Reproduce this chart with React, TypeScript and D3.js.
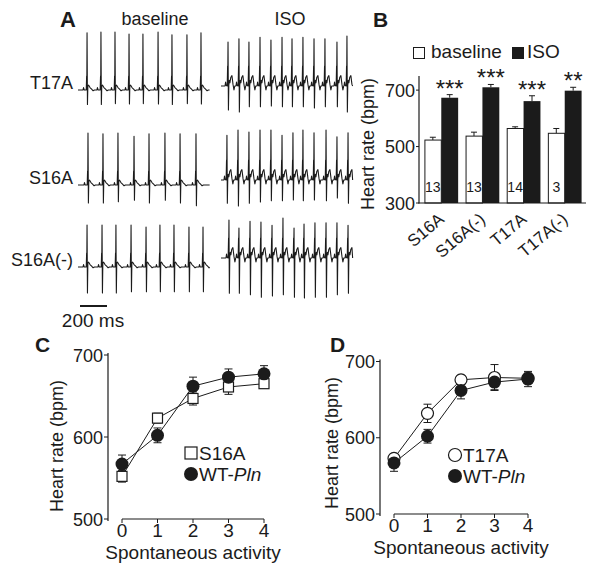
import * as d3 from 'd3'

const FONT = '"Liberation Sans", Arial, Helvetica, sans-serif'
const INK = '#1b1b1b'

// ---------- A: ECG traces ----------
const traceLabels = ['T17A', 'S16A', 'S16A(-)']
// R-peak times (ms) inside a 975 ms window
const baselineBeats = [
  [67, 170, 274, 378, 481, 593, 696, 807, 911],
  [74, 185, 296, 415, 526, 644, 756, 874],
  [67, 178, 281, 393, 504, 607, 711, 822, 926],
]
const isoBeats = [
  [52, 133, 207, 289, 370, 452, 526, 607, 689, 770, 859, 933],
  [44, 126, 207, 289, 370, 452, 533, 607, 689, 778, 859, 941],
  [59, 133, 215, 296, 378, 459, 541, 615, 696, 778, 859, 941],
]
// R and S amplitudes (mV)
const baselineR = [
  [1.43, 1.45, 1.45, 1.4, 1.4, 1.45, 1.38, 1.38, 1.43],
  [1.3, 1.28, 1.3, 1.22, 1.28, 1.3, 1.28, 1.28],
  [1.05, 1.05, 1.05, 1.05, 1.0, 1.05, 1.05, 1.0, 1.0],
]
const baselineS = [
  [0.36, 0.36, 0.34, 0.35, 0.34, 0.35, 0.36, 0.34, 0.35],
  [0.45, 0.45, 0.42, 0.38, 0.45, 0.38, 0.45, 0.52],
  [0.65, 0.65, 0.65, 0.62, 0.62, 0.62, 0.62, 0.62, 0.62],
]
const isoR = [
  [1.1, 1.18, 1.1, 1.22, 1.15, 1.22, 1.18, 1.22, 1.18, 1.18, 1.1, 1.25],
  [1.12, 1.25, 1.2, 1.25, 1.25, 1.12, 1.18, 1.25, 1.18, 1.25, 1.08, 1.18],
  [0.95, 0.75, 0.92, 0.9, 0.82, 1.0, 0.75, 0.85, 0.88, 0.88, 0.88, 0.82],
]
const isoS = [
  [0.6, 0.65, 0.52, 0.52, 0.5, 0.52, 0.52, 0.52, 0.55, 0.52, 0.52, 0.65],
  [0.58, 0.65, 0.58, 0.55, 0.52, 0.52, 0.5, 0.52, 0.5, 0.52, 0.45, 0.58],
  [0.88, 0.88, 0.92, 0.98, 0.95, 0.92, 0.98, 1.0, 0.98, 0.98, 0.92, 0.88],
]
// one-beat shapes around R peak: [ms offset, mV]
const restPre = [[-30, 0], [-26, 0.06], [-21, 0], [-6, 0], [-3, 0.35], [-1.5, 0.3]]
const restPost = [[6, 0.1], [12, 0.12], [22, 0.06], [34, 0.02], [45, -0.02], [55, 0]]
const isoPre = [[-22, 0], [-18, 0.1], [-14, 0.02], [-6, 0], [-3, 0.5], [-1.5, 0.42]]
const isoPost = [[6, 0.02], [10, 0.14], [14, 0.08], [21, 0.22], [29, 0.26], [37, 0.04], [44, -0.1], [50, 0]]
const SPAN = 975

// ---------- B: bar chart ----------
const groups = ['S16A', 'S16A(-)', 'T17A', 'T17A(-)']
const baseMean = [523, 537, 564, 547]
const baseErr = [10, 14, 6, 17]
const isoMean = [673, 710, 661, 698]
const isoErr = [11, 10, 19, 12]
const nLabels = ['13', '13', '14', '3']
const stars = ['***', '***', '***', '**']
const barTicks = [300, 500, 700]

// ---------- C / D: heart rate vs activity ----------
const activity = [0, 1, 2, 3, 4]
const s16aMean = [552, 623, 647, 661, 665]
const s16aErr = [7, 6, 8, 9, 5]
const t17aMean = [573, 632, 676, 679, 678]
const t17aErr = [6, 12, 6, 17, 7]
const wtMean = [567, 602, 662, 673, 677]
const wtErr = [11, 9, 11, 10, 10]
const hrTicks = [500, 600, 700]

function ecgPoints(beats: number[], r: number[], s: number[], pre: number[][], post: number[][]) {
  const pts: [number, number][] = [[0, 0]]
  beats.forEach((t, i) => {
    pre.forEach(([dt, v]) => pts.push([t + dt, v]))
    pts.push([t, r[i]])
    pts.push([t + 3, -s[i]])
    post.forEach(([dt, v]) => pts.push([t + dt, v]))
  })
  const inside = pts.filter((p) => p[0] >= 0 && p[0] <= SPAN).sort((a, b) => a[0] - b[0])
  inside.push([SPAN, 0])
  return inside
}

function Trace({ x0, baseY, pts }: { x0: number; baseY: number; pts: [number, number][] }) {
  const x = d3.scaleLinear().domain([0, SPAN]).range([x0, x0 + SPAN * 0.135])
  const y = d3.scaleLinear().domain([0, 1]).range([baseY, baseY - 40])
  const line = d3.line<[number, number]>().x((d) => x(d[0])).y((d) => y(d[1]))
  return <path d={line(pts) ?? ''} fill="none" stroke={INK} strokeWidth={1.1} strokeLinejoin="round" />
}

function PanelA() {
  const rowBase = [90, 185, 267]
  const rowIso = [86, 180, 258]
  const xb = d3.scaleLinear().domain([0, SPAN]).range([78, 78 + SPAN * 0.135])
  return (
    <g>
      <text x={60} y={27} fontSize={22} fontWeight="bold">A</text>
      <text x={155} y={25} fontSize={18} textAnchor="middle">baseline</text>
      <text x={290} y={25} fontSize={18} textAnchor="middle">ISO</text>
      {traceLabels.map((lab, i) => (
        <g key={lab}>
          <text x={73} y={rowBase[i] - 1} fontSize={18} textAnchor="end">{lab}</text>
          <Trace x0={78} baseY={rowBase[i]} pts={ecgPoints(baselineBeats[i], baselineR[i], baselineS[i], restPre, restPost)} />
          <Trace x0={221} baseY={rowIso[i]} pts={ecgPoints(isoBeats[i], isoR[i], isoS[i], isoPre, isoPost)} />
        </g>
      ))}
      <line x1={xb(15)} x2={xb(215)} y1={306} y2={306} stroke={INK} strokeWidth={2} />
      <text x={93} y={327} fontSize={19} textAnchor="middle">200 ms</text>
    </g>
  )
}

function PanelB() {
  const x = d3.scaleBand().domain(groups).range([417, 589]).padding(0.18)
  const y = d3.scaleLinear().domain([300, 750]).range([203, 76])
  const bw = x.bandwidth() / 2
  const cap = 3
  return (
    <g>
      <text x={373} y={27} fontSize={21} fontWeight="bold">B</text>
      <rect x={413.5} y={47.5} width={11} height={11} fill="#fff" stroke={INK} />
      <text x={431} y={58} fontSize={19}>baseline</text>
      <rect x={512} y={47} width={12} height={12} fill={INK} />
      <text x={527} y={58} fontSize={19}>ISO</text>
      {groups.map((g, i) => {
        const x0 = x(g)!
        const bt = y(baseMean[i] + baseErr[i])
        const it = y(isoMean[i] + isoErr[i])
        return (
          <g key={g}>
            <line x1={x0 + bw / 2} x2={x0 + bw / 2} y1={y(baseMean[i])} y2={y(baseMean[i] + baseErr[i])} stroke={INK} />
            <line x1={x0 + bw / 2 - cap} x2={x0 + bw / 2 + cap} y1={bt} y2={bt} stroke={INK} />
            <line x1={x0 + bw * 1.5} x2={x0 + bw * 1.5} y1={y(isoMean[i])} y2={it} stroke={INK} />
            <line x1={x0 + bw * 1.5 - cap} x2={x0 + bw * 1.5 + cap} y1={it} y2={it} stroke={INK} />
            <rect x={x0 + 0.5} y={y(baseMean[i])} width={bw - 0.5} height={y(300) - y(baseMean[i])} fill="#fff" stroke={INK} />
            <rect x={x0 + bw} y={y(isoMean[i])} width={bw} height={y(300) - y(isoMean[i])} fill={INK} />
            <text x={x0 + bw / 2} y={192} fontSize={14} textAnchor="middle">{nLabels[i]}</text>
            <text x={x0 + bw * 1.5} y={it + 2} fontSize={24} textAnchor="middle">{stars[i]}</text>
            <text transform={`translate(${x0 + bw + 4},221) rotate(-40)`} fontSize={17} textAnchor="end">{g}</text>
          </g>
        )
      })}
      <line x1={419} x2={419} y1={y(750)} y2={203.5} stroke={INK} strokeWidth={1.2} />
      <line x1={418.5} x2={586} y1={203} y2={203} stroke={INK} strokeWidth={1.2} />
      {barTicks.map((t) => (
        <g key={t}>
          <line x1={416} x2={419} y1={y(t)} y2={y(t)} stroke={INK} />
          <text x={415} y={y(t) + 6.5} fontSize={18} textAnchor="end">{t}</text>
        </g>
      ))}
      <text transform="translate(374,144) rotate(-90)" fontSize={18} textAnchor="middle">Heart rate (bpm)</text>
    </g>
  )
}

interface Series { mean: number[]; err: number[]; marker: 'square' | 'circle' | 'dot' }

function Marker({ kind, cx, cy, big }: { kind: Series['marker']; cx: number; cy: number; big?: boolean }) {
  if (kind === 'square') {
    const s = big ? 12 : 10
    return <rect x={cx - s / 2} y={cy - s / 2} width={s} height={s} fill="#fff" stroke={INK} strokeWidth={1.2} />
  }
  const r = big ? 7 : 6.5
  return kind === 'dot'
    ? <circle cx={cx} cy={cy} r={r} fill={INK} />
    : <circle cx={cx} cy={cy} r={r - 0.5} fill="#fff" stroke={INK} strokeWidth={1.2} />
}

function LinePanel(p: {
  letter: string; lx: number; xr: [number, number]; yr: [number, number]; yAxisX: number
  labelX: number; labelY: number; series: Series[]; legend: { name: string; marker: Series['marker']; italic?: string }[]
  legX: number; legY: number
}) {
  const x = d3.scaleLinear().domain([0, 4]).range(p.xr)
  const y = d3.scaleLinear().domain([500, 700]).range(p.yr)
  const line = d3.line<number>().x((_, i) => x(activity[i])).y((d) => y(d))
  return (
    <g>
      <text x={p.lx} y={352} fontSize={21} fontWeight="bold">{p.letter}</text>
      <line x1={p.yAxisX} x2={p.yAxisX} y1={y(700) - 2} y2={y(500) + 2} stroke={INK} strokeWidth={1.2} />
      {hrTicks.map((t) => (
        <g key={t}>
          <line x1={p.yAxisX - 4} x2={p.yAxisX} y1={y(t)} y2={y(t)} stroke={INK} />
          <text x={p.yAxisX - 5} y={y(t) + 6.5} fontSize={18} textAnchor="end">{t}</text>
        </g>
      ))}
      <line x1={x(0)} x2={x(4)} y1={y(500)} y2={y(500)} stroke={INK} strokeWidth={1.2} />
      {activity.map((a) => (
        <g key={a}>
          <line x1={x(a)} x2={x(a)} y1={y(500)} y2={y(500) + 4} stroke={INK} />
          <text x={x(a)} y={y(500) + 18} fontSize={19} textAnchor="middle">{a}</text>
        </g>
      ))}
      <text x={(p.xr[0] + p.xr[1]) / 2} y={y(500) + 40} fontSize={19} textAnchor="middle">Spontaneous activity</text>
      <text transform={`translate(${p.labelX},${p.labelY}) rotate(-90)`} fontSize={18} textAnchor="middle">Heart rate (bpm)</text>
      {p.series.map((s, si) => (
        <g key={si}>
          <path d={line(s.mean) ?? ''} fill="none" stroke={INK} strokeWidth={1} />
          {s.mean.map((m, i) => (
            <g key={i}>
              <line x1={x(activity[i])} x2={x(activity[i])} y1={y(m - s.err[i])} y2={y(m + s.err[i])} stroke={INK} />
              <line x1={x(activity[i]) - 4} x2={x(activity[i]) + 4} y1={y(m - s.err[i])} y2={y(m - s.err[i])} stroke={INK} />
              <line x1={x(activity[i]) - 4} x2={x(activity[i]) + 4} y1={y(m + s.err[i])} y2={y(m + s.err[i])} stroke={INK} />
            </g>
          ))}
        </g>
      ))}
      {p.series.map((s, si) => (
        <g key={'m' + si}>
          {s.mean.map((m, i) => <Marker key={i} kind={s.marker} cx={x(activity[i])} cy={y(m)} />)}
        </g>
      ))}
      {p.legend.map((l, i) => (
        <g key={l.name}>
          <Marker kind={l.marker} cx={p.legX} cy={p.legY + i * 21} big />
          <text x={p.legX + 8} y={p.legY + i * 21 + 6.5} fontSize={19}>
            {l.name}{l.italic && <tspan fontStyle="italic">{l.italic}</tspan>}
          </text>
        </g>
      ))}
    </g>
  )
}

export default function App() {
  return (
    <svg width={601} height={571} style={{ position: 'absolute', left: 0, top: 0, background: '#fff' }}
      fontFamily={FONT} fill={INK}>
      <rect width={601} height={571} fill="#fff" />
      <PanelA />
      <PanelB />
      <LinePanel letter="C" lx={35} xr={[122, 264]} yr={[519, 355]} yAxisX={108} labelX={63} labelY={446}
        series={[{ mean: s16aMean, err: s16aErr, marker: 'square' }, { mean: wtMean, err: wtErr, marker: 'dot' }]}
        legend={[{ name: 'S16A', marker: 'square' }, { name: 'WT-', italic: 'Pln', marker: 'dot' }]}
        legX={191} legY={453} />
      <LinePanel letter="D" lx={330} xr={[394, 528]} yr={[514, 361.5]} yAxisX={380} labelX={338} labelY={443}
        series={[{ mean: t17aMean, err: t17aErr, marker: 'circle' }, { mean: wtMean, err: wtErr, marker: 'dot' }]}
        legend={[{ name: 'T17A', marker: 'circle' }, { name: 'WT-', italic: 'Pln', marker: 'dot' }]}
        legX={455} legY={455} />
    </svg>
  )
}
